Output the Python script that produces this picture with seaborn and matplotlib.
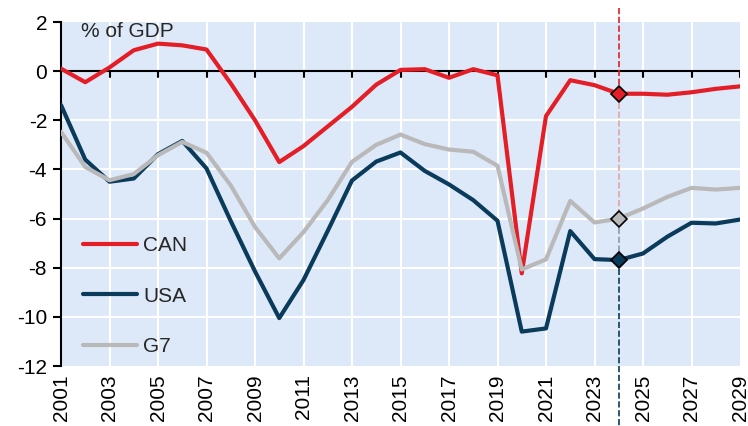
import pandas as pd
import matplotlib
matplotlib.use('Agg')
import matplotlib.pyplot as plt
import seaborn as sns

# 재정수지 (% of GDP) 데이터
years = list(range(2001, 2030))
can = [0.1, -0.45, 0.15, 0.85, 1.12, 1.05, 0.88, -0.5, -2.0, -3.7, -3.05, -2.25, -1.45,
       -0.55, 0.05, 0.08, -0.27, 0.08, -0.17, -8.23, -1.83, -0.37, -0.57, -0.92, -0.92,
       -0.96, -0.86, -0.72, -0.62]
usa = [-1.38, -3.6, -4.5, -4.37, -3.38, -2.84, -3.96, -6.1, -8.15, -10.05, -8.5, -6.5,
       -4.45, -3.68, -3.31, -4.06, -4.61, -5.25, -6.09, -10.6, -10.47, -6.51, -7.65,
       -7.69, -7.42, -6.74, -6.17, -6.2, -6.04]
g7 = [-2.47, -3.9, -4.44, -4.19, -3.42, -2.88, -3.32, -4.65, -6.34, -7.62, -6.55, -5.25,
      -3.69, -3.0, -2.58, -2.97, -3.19, -3.28, -3.85, -8.07, -7.66, -5.28, -6.16, -6.0,
      -5.59, -5.12, -4.75, -4.82, -4.75]
series = ['CAN', 'USA', 'G7']
colors = {'CAN': '#e41e26', 'USA': '#0b3b5a', 'G7': '#b9b9b9'}
mark_year = 2024

df = pd.DataFrame({'year': years, 'CAN': can, 'USA': usa, 'G7': g7})
long_df = df.melt(id_vars='year', var_name='series', value_name='value')

sns.set_style('white')
plt.rcParams['font.family'] = ['Liberation Sans', 'DejaVu Sans']
plt.rcParams['axes.unicode_minus'] = False

fig = plt.figure(figsize=(7.48, 4.26), dpi=100)
ax = fig.add_axes([61 / 748, 1 - 366 / 426, 679 / 748, 344 / 426])
ax.set_facecolor('#dde9f9')

sns.lineplot(data=long_df, x='year', y='value', hue='series', hue_order=series,
             palette=colors, linewidth=3, ax=ax, zorder=3)

ax.set_xlim(2001, 2029)
ax.set_ylim(-12, 2)
ax.set_yticks(range(-12, 3, 2))
ax.set_xticks(range(2001, 2030, 2))
ax.set_xticklabels([str(y) for y in range(2001, 2030, 2)], rotation=90)
ax.tick_params(axis='both', labelsize=15, colors='black')
ax.tick_params(axis='y', direction='out', length=6, width=1.5, left=True, pad=4)
ax.tick_params(axis='x', length=0, pad=6)

# 격자
for y in range(-10, 2, 2):
    if y != 0:
        ax.axhline(y, color='white', linewidth=1.5, zorder=1)
for x in range(2003, 2029, 2):
    ax.axvline(x, color='white', linewidth=1.5, zorder=1)

# 0 기준선과 눈금
ax.axhline(0, color='black', linewidth=1.5, zorder=2)
for x in range(2003, 2030, 2):
    ax.plot([x, x], [0, -0.25], color='black', linewidth=1.5, zorder=2)

for s in ['top', 'right', 'bottom']:
    ax.spines[s].set_visible(False)
ax.spines['left'].set_color('black')
ax.spines['left'].set_linewidth(1.5)
ax.set_xlabel('')
ax.set_ylabel('')

# 2024 세로 점선
i = years.index(mark_year)
ax.plot([mark_year, mark_year], [2.57, can[i]], color='#e41e26', linestyle='--',
        linewidth=1.2, clip_on=False, zorder=4)
ax.plot([mark_year, mark_year], [can[i], g7[i]], color='#e8a0a4', linestyle='--',
        linewidth=1.2, clip_on=False, zorder=4)
ax.plot([mark_year, mark_year], [g7[i], usa[i]], color='#8a9aa8', linestyle='--',
        linewidth=1.2, clip_on=False, zorder=4)
ax.plot([mark_year, mark_year], [usa[i], -14.5], color='#0b3b5a', linestyle='--',
        linewidth=1.2, clip_on=False, zorder=4)

for s, vals in zip(series, [can, usa, g7]):
    ax.plot(mark_year, vals[i], marker='D', markersize=8, markerfacecolor=colors[s],
            markeredgecolor='black', markeredgewidth=1.2, zorder=5)

ax.text(0.03, 1.0, '% of GDP', transform=ax.transAxes, fontsize=15, va='top', ha='left')

handles, labels = ax.get_legend_handles_labels()
ax.legend(handles, labels, loc='lower left', bbox_to_anchor=(0.02, 0.005), borderaxespad=0.0,
          frameon=False, fontsize=15, handlelength=2.6, handletextpad=0.3, labelspacing=1.5)

plt.savefig('out.png', dpi=100)
